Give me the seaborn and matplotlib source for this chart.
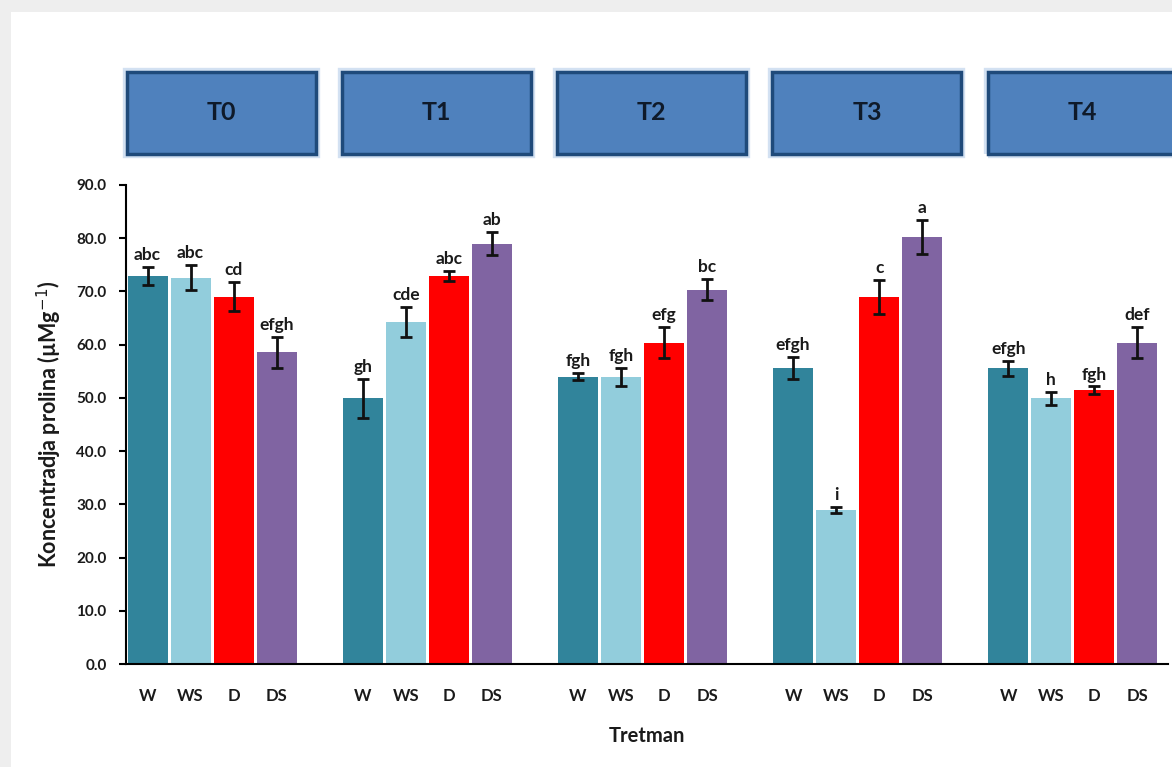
import numpy as np
import pandas as pd
import seaborn as sns
import matplotlib
matplotlib.use("Agg")
import matplotlib.pyplot as plt
from matplotlib.patches import Rectangle
from matplotlib.transforms import blended_transform_factory

# ---------------- data ----------------
periods = ["T0", "T1", "T2", "T3", "T4"]
conditions = ["W", "WS", "D", "DS"]
values_T0 = [72.9, 72.6, 69.0, 58.6]
values_T1 = [49.9, 64.3, 72.9, 79.0]
values_T2 = [54.0, 54.0, 60.4, 70.3]
values_T3 = [55.6, 28.9, 69.0, 80.2]
values_T4 = [55.6, 49.9, 51.4, 60.4]
errors_T0 = [1.75, 2.4, 2.7, 2.9]
errors_T1 = [3.7, 2.8, 0.9, 2.2]
errors_T2 = [0.7, 1.7, 2.95, 2.0]
errors_T3 = [2.1, 0.55, 3.2, 3.15]
errors_T4 = [1.4, 1.2, 0.75, 2.95]
letters_T0 = ["abc", "abc", "cd", "efgh"]
letters_T1 = ["gh", "cde", "abc", "ab"]
letters_T2 = ["fgh", "fgh", "efg", "bc"]
letters_T3 = ["efgh", "i", "c", "a"]
letters_T4 = ["efgh", "h", "fgh", "def"]
y_ticks = [0, 10, 20, 30, 40, 50, 60, 70, 80, 90]

all_values = [values_T0, values_T1, values_T2, values_T3, values_T4]
all_errors = [errors_T0, errors_T1, errors_T2, errors_T3, errors_T4]
all_letters = [letters_T0, letters_T1, letters_T2, letters_T3, letters_T4]

colors = {"W": "#31849B", "WS": "#92CDDC", "D": "#FF0000", "DS": "#8064A2"}

rows = []
for p, vals, errs, lets in zip(periods, all_values, all_errors, all_letters):
    for c, v, e, l in zip(conditions, vals, errs, lets):
        rows.append({"slot": f"{p}-{c}", "period": p, "cond": c,
                     "val": v, "err": e, "letter": l})
df = pd.DataFrame(rows)

order = []
for p in periods:
    order += [f"{p}-{c}" for c in conditions]
    if p != periods[-1]:
        order.append(f"{p}-gap")

# ---------------- figure ----------------
sns.set_theme(style="white")
font = ["Lato", "DejaVu Sans"]
plt.rcParams["font.family"] = font
txt = "#1a1a1a"

fig = plt.figure(figsize=(11.72, 7.67), dpi=100)
fig.patch.set_facecolor("#eeeeee")
fig.add_artist(Rectangle((0.009, 0.0), 1.0, 0.984, transform=fig.transFigure,
                         facecolor="white", edgecolor="none", zorder=-10))

W_px, H_px = 1172, 767
ax_left = 126 / W_px
ax_bottom = (H_px - 664) / H_px
ax_height = (664 - 185) / H_px
slot_px = 43.04
ax_width = 24.2 * slot_px / W_px
ax = fig.add_axes([ax_left, ax_bottom, ax_width, ax_height])
ax.set_facecolor("none")

sns.barplot(data=df, x="slot", y="val", hue="cond", order=order,
            hue_order=conditions, palette=colors, dodge=False,
            width=0.93, errorbar=None, legend=False, ax=ax,
            linewidth=0, saturation=1)

pos = {s: i for i, s in enumerate(order)}
xs = df["slot"].map(pos).to_numpy()
ax.errorbar(xs, df["val"], yerr=df["err"], fmt="none", ecolor="#111111",
            elinewidth=2.0, capsize=4, capthick=2.0, zorder=5)

for x, v, e, l in zip(xs, df["val"], df["err"], df["letter"]):
    ax.annotate(l, (x, v + e), xytext=(0, 5), textcoords="offset points",
                ha="center", va="baseline", fontsize=12.5, fontweight="bold",
                color=txt)

ax.set_xlim(-0.5, 23.7)
ax.set_ylim(0, 90)
ax.set_yticks(y_ticks)
ax.set_yticklabels([f"{t:.1f}" for t in y_ticks], fontsize=11,
                   fontweight="bold", color=txt)

centers = [pos[s] for s in df["slot"]]
ax.set_xticks(centers)
ax.set_xticklabels(df["cond"].tolist(), fontsize=12, fontweight="bold",
                   color=txt)
ax.set_xticks(np.arange(-0.5, 24, 1.0), minor=True)
ax.tick_params(axis="x", which="major", length=0, pad=17)
ax.tick_params(axis="x", which="minor", length=6, width=1.5, color="black",
               direction="out")
ax.tick_params(axis="y", which="major", length=5, width=1.5, color="black",
               direction="out", left=True, pad=9)

for s in ["top", "right"]:
    ax.spines[s].set_visible(False)
for s in ["left", "bottom"]:
    ax.spines[s].set_color("black")
    ax.spines[s].set_linewidth(1.5)

ax.set_xlabel("Tretman", fontsize=14.5, fontweight="bold", color=txt,
              labelpad=16)
ax.set_ylabel("Koncentradja prolina (µMg$^{-1}$)", fontsize=15.5,
              fontweight="bold", color=txt, labelpad=9)

# ---------------- period header boxes ----------------
trans = blended_transform_factory(ax.transData, fig.transFigure)
box_bottom = 1 - 154 / H_px
box_h = (154 - 72) / H_px
box_w = 4.39
for k, p in enumerate(periods):
    x0 = -0.5 + 5 * k + 0.02
    glow = Rectangle((x0, box_bottom), box_w, box_h, transform=trans,
                     facecolor="none", edgecolor="#D3E1F2", linewidth=6,
                     clip_on=False, zorder=1)
    fig.add_artist(glow)
    box = Rectangle((x0, box_bottom), box_w, box_h, transform=trans,
                    facecolor="#4F81BD", edgecolor="#1F4A7A", linewidth=2.5,
                    clip_on=False, zorder=2)
    fig.add_artist(box)
    t = fig.text(0, 0, p, transform=trans, fontsize=18, fontweight="bold",
                 color="#0f1a2a", ha="center", va="center", zorder=3)
    t.set_position((x0 + box_w / 2, box_bottom + box_h / 2))

fig.savefig("out.png", dpi=100)
